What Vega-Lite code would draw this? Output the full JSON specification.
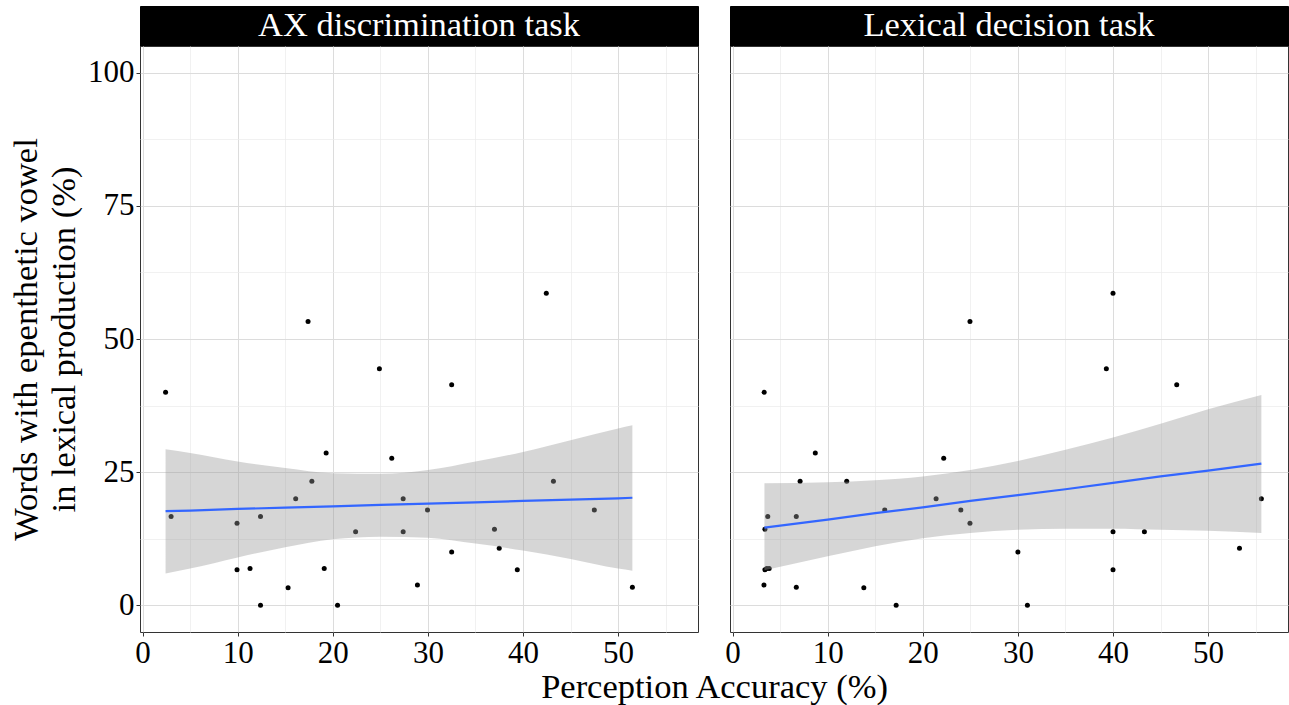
{
  "$schema": "https://vega.github.io/schema/vega-lite/v6.json",
  "padding": {"left": 8, "top": 5, "right": 2, "bottom": 2},
  "background": "white",
  "datasets": {
    "strips": [
      {"task": "AX discrimination task"},
      {"task": "Lexical decision task"}
    ],
    "pts": [
      {"task": "AX", "acc": 2.42, "epen": 40.0},
      {"task": "AX", "acc": 17.4, "epen": 53.3},
      {"task": "AX", "acc": 24.9, "epen": 44.4},
      {"task": "AX", "acc": 19.3, "epen": 28.6},
      {"task": "AX", "acc": 26.2, "epen": 27.6},
      {"task": "AX", "acc": 17.8, "epen": 23.3},
      {"task": "AX", "acc": 16.1, "epen": 20.0},
      {"task": "AX", "acc": 27.4, "epen": 20.0},
      {"task": "AX", "acc": 3.0, "epen": 16.7},
      {"task": "AX", "acc": 9.93, "epen": 15.4},
      {"task": "AX", "acc": 12.4, "epen": 16.7},
      {"task": "AX", "acc": 22.4, "epen": 13.8},
      {"task": "AX", "acc": 27.4, "epen": 13.8},
      {"task": "AX", "acc": 9.93, "epen": 6.7},
      {"task": "AX", "acc": 11.3, "epen": 6.9},
      {"task": "AX", "acc": 19.1, "epen": 6.9},
      {"task": "AX", "acc": 15.3, "epen": 3.3},
      {"task": "AX", "acc": 28.9, "epen": 3.8},
      {"task": "AX", "acc": 12.4, "epen": 0},
      {"task": "AX", "acc": 20.5, "epen": 0},
      {"task": "AX", "acc": 29.96, "epen": 17.9},
      {"task": "AX", "acc": 42.45, "epen": 58.6},
      {"task": "AX", "acc": 32.5, "epen": 41.4},
      {"task": "AX", "acc": 43.2, "epen": 23.3},
      {"task": "AX", "acc": 47.5, "epen": 17.9},
      {"task": "AX", "acc": 37.0, "epen": 14.3},
      {"task": "AX", "acc": 37.5, "epen": 10.7},
      {"task": "AX", "acc": 32.5, "epen": 10.0},
      {"task": "AX", "acc": 39.4, "epen": 6.7},
      {"task": "AX", "acc": 51.5, "epen": 3.4},
      {"task": "LD", "acc": 3.32, "epen": 40.0},
      {"task": "LD", "acc": 24.96, "epen": 53.3},
      {"task": "LD", "acc": 8.7, "epen": 28.6},
      {"task": "LD", "acc": 22.2, "epen": 27.6},
      {"task": "LD", "acc": 7.1, "epen": 23.3},
      {"task": "LD", "acc": 12.0, "epen": 23.3},
      {"task": "LD", "acc": 21.4, "epen": 20.0},
      {"task": "LD", "acc": 3.7, "epen": 16.7},
      {"task": "LD", "acc": 6.7, "epen": 16.7},
      {"task": "LD", "acc": 16.0, "epen": 17.9},
      {"task": "LD", "acc": 24.0, "epen": 17.9},
      {"task": "LD", "acc": 3.4, "epen": 14.3},
      {"task": "LD", "acc": 24.96, "epen": 15.4},
      {"task": "LD", "acc": 3.4, "epen": 6.7},
      {"task": "LD", "acc": 3.6, "epen": 6.9},
      {"task": "LD", "acc": 3.85, "epen": 6.9},
      {"task": "LD", "acc": 3.3, "epen": 3.8},
      {"task": "LD", "acc": 6.7, "epen": 3.4},
      {"task": "LD", "acc": 13.8, "epen": 3.3},
      {"task": "LD", "acc": 17.2, "epen": 0},
      {"task": "LD", "acc": 40.0, "epen": 58.6},
      {"task": "LD", "acc": 39.3, "epen": 44.4},
      {"task": "LD", "acc": 46.7, "epen": 41.4},
      {"task": "LD", "acc": 55.6, "epen": 20.0},
      {"task": "LD", "acc": 40.0, "epen": 13.8},
      {"task": "LD", "acc": 43.3, "epen": 13.8},
      {"task": "LD", "acc": 30.0, "epen": 10.0},
      {"task": "LD", "acc": 53.3, "epen": 10.7},
      {"task": "LD", "acc": 40.0, "epen": 6.7},
      {"task": "LD", "acc": 31.0, "epen": 0}
    ],
    "band": [
      {"task": "AX", "acc": 2.42, "lo": 6.0, "hi": 29.3, "fit": 17.7},
      {"task": "AX", "acc": 5, "lo": 6.9, "hi": 28.6, "fit": 17.8},
      {"task": "AX", "acc": 10, "lo": 9.0, "hi": 27.0, "fit": 18.1},
      {"task": "AX", "acc": 15, "lo": 10.9, "hi": 25.8, "fit": 18.35},
      {"task": "AX", "acc": 20, "lo": 12.4, "hi": 24.8, "fit": 18.6},
      {"task": "AX", "acc": 25, "lo": 12.9, "hi": 24.7, "fit": 18.85},
      {"task": "AX", "acc": 30, "lo": 12.7, "hi": 25.4, "fit": 19.1},
      {"task": "AX", "acc": 35, "lo": 11.6, "hi": 27.0, "fit": 19.35},
      {"task": "AX", "acc": 40, "lo": 10.3, "hi": 28.8, "fit": 19.6},
      {"task": "AX", "acc": 45, "lo": 8.7, "hi": 31.0, "fit": 19.85},
      {"task": "AX", "acc": 50, "lo": 6.9, "hi": 33.2, "fit": 20.1},
      {"task": "AX", "acc": 51.5, "lo": 6.5, "hi": 33.8, "fit": 20.2},
      {"task": "LD", "acc": 3.35, "lo": 6.6, "hi": 22.9, "fit": 14.6},
      {"task": "LD", "acc": 10, "lo": 9.2, "hi": 23.1, "fit": 16.1},
      {"task": "LD", "acc": 15, "lo": 11.1, "hi": 23.5, "fit": 17.3},
      {"task": "LD", "acc": 20, "lo": 12.6, "hi": 24.2, "fit": 18.4},
      {"task": "LD", "acc": 25, "lo": 13.6, "hi": 25.4, "fit": 19.6},
      {"task": "LD", "acc": 30, "lo": 14.2, "hi": 27.1, "fit": 20.7},
      {"task": "LD", "acc": 35, "lo": 14.4, "hi": 29.2, "fit": 21.8},
      {"task": "LD", "acc": 40, "lo": 14.4, "hi": 31.5, "fit": 23.0},
      {"task": "LD", "acc": 45, "lo": 14.2, "hi": 34.1, "fit": 24.2},
      {"task": "LD", "acc": 50, "lo": 14.0, "hi": 36.8, "fit": 25.3},
      {"task": "LD", "acc": 55.6, "lo": 13.6, "hi": 39.5, "fit": 26.6}
    ]
  },
  "bounds": "flush",
  "columns": 2,
  "spacing": {"row": 0, "column": 32},
  "concat": [
    {
      "width": 558,
      "height": 40,
      "data": {"name": "strips"},
      "transform": [{"filter": "datum.task === 'AX discrimination task'"}],
      "view": {"fill": "black", "stroke": "black"},
      "mark": {"type": "text", "color": "white", "font": "Liberation Serif", "fontSize": 34.5, "baseline": "middle", "align": "center"},
      "encoding": {"text": {"field": "task", "type": "nominal"}}
    },
    {
      "width": 558,
      "height": 40,
      "data": {"name": "strips"},
      "transform": [{"filter": "datum.task === 'Lexical decision task'"}],
      "view": {"fill": "black", "stroke": "black"},
      "mark": {"type": "text", "color": "white", "font": "Liberation Serif", "fontSize": 34.5, "baseline": "middle", "align": "center"},
      "encoding": {"text": {"field": "task", "type": "nominal"}}
    },
    {
      "width": 558,
      "height": 586,
      "layer": [
        {
          "data": {"name": "pts"},
          "transform": [{"filter": "datum.task === 'AX'"}],
          "mark": {"type": "circle", "size": 25, "color": "black", "opacity": 1},
          "encoding": {
            "x": {
              "field": "acc", "type": "quantitative",
              "scale": {"domain": [-0.27, 58.4], "nice": false, "zero": false},
              "axis": {
                "title": "Perception Accuracy (%)",
                "titleFont": "Liberation Serif",
                "titleFontSize": 34.5,
                "titleFontWeight": "normal",
                "titleX": 574,
                "titleY": 38,
                "titleAlign": "center",
                "titleBaseline": "top",
                "values": [0, 5, 10, 15, 20, 25, 30, 35, 40, 45, 50, 55],
                "labelExpr": "datum.value % 10 === 0 ? datum.label : ''",
                "gridWidth": {"condition": {"test": "datum.value % 10 === 0", "value": 1}, "value": 0.7},
                "gridColor": {"condition": {"test": "datum.value % 10 === 0", "value": "#dcdcdc"}, "value": "#ebebeb"},
                "tickSize": {"condition": {"test": "datum.value % 10 === 0", "value": 4}, "value": 0}
              }
            },
            "y": {
              "field": "epen", "type": "quantitative",
              "scale": {"domain": [-5, 105], "nice": false, "zero": false},
              "axis": {
                "title": ["Words with epenthetic vowel", "in lexical production (%)"],
                "titleFont": "Liberation Serif",
                "titleFontSize": 34.5,
                "titleFontWeight": "normal",
                "titleLineHeight": 38,
                "titlePadding": 6,
                "values": [0, 12.5, 25, 37.5, 50, 62.5, 75, 87.5, 100],
                "labelExpr": "datum.value % 25 === 0 ? datum.label : ''",
                "gridWidth": {"condition": {"test": "datum.value % 25 === 0", "value": 1}, "value": 0.7},
                "gridColor": {"condition": {"test": "datum.value % 25 === 0", "value": "#dcdcdc"}, "value": "#ebebeb"},
                "tickSize": {"condition": {"test": "datum.value % 25 === 0", "value": 4}, "value": 0}
              }
            }
          }
        },
        {
          "data": {"name": "band"},
          "transform": [{"filter": "datum.task === 'AX'"}],
          "mark": {"type": "area", "color": "#999999", "opacity": 0.4, "interpolate": "monotone"},
          "encoding": {
            "x": {"field": "acc", "type": "quantitative", "title": "Perception Accuracy (%)"},
            "y": {"field": "lo", "type": "quantitative", "title": ["Words with epenthetic vowel", "in lexical production (%)"]},
            "y2": {"field": "hi"}
          }
        },
        {
          "data": {"name": "band"},
          "transform": [{"filter": "datum.task === 'AX'"}],
          "mark": {"type": "line", "color": "#3366FF", "strokeWidth": 2.2},
          "encoding": {
            "x": {"field": "acc", "type": "quantitative", "title": "Perception Accuracy (%)"},
            "y": {"field": "fit", "type": "quantitative", "title": ["Words with epenthetic vowel", "in lexical production (%)"]}
          }
        }
      ]
    },
    {
      "width": 558,
      "height": 586,
      "layer": [
        {
          "data": {"name": "pts"},
          "transform": [{"filter": "datum.task === 'LD'"}],
          "mark": {"type": "circle", "size": 25, "color": "black", "opacity": 1},
          "encoding": {
            "x": {
              "field": "acc", "type": "quantitative",
              "scale": {"domain": [-0.27, 58.4], "nice": false, "zero": false},
              "axis": {
                "title": null,
                "values": [0, 5, 10, 15, 20, 25, 30, 35, 40, 45, 50, 55],
                "labelExpr": "datum.value % 10 === 0 ? datum.label : ''",
                "gridWidth": {"condition": {"test": "datum.value % 10 === 0", "value": 1}, "value": 0.7},
                "gridColor": {"condition": {"test": "datum.value % 10 === 0", "value": "#dcdcdc"}, "value": "#ebebeb"},
                "tickSize": {"condition": {"test": "datum.value % 10 === 0", "value": 4}, "value": 0}
              }
            },
            "y": {
              "field": "epen", "type": "quantitative",
              "scale": {"domain": [-5, 105], "nice": false, "zero": false},
              "axis": {
                "title": null,
                "labels": false,
                "ticks": false,
                "values": [0, 12.5, 25, 37.5, 50, 62.5, 75, 87.5, 100],
                "gridWidth": {"condition": {"test": "datum.value % 25 === 0", "value": 1}, "value": 0.7},
                "gridColor": {"condition": {"test": "datum.value % 25 === 0", "value": "#dcdcdc"}, "value": "#ebebeb"}
              }
            }
          }
        },
        {
          "data": {"name": "band"},
          "transform": [{"filter": "datum.task === 'LD'"}],
          "mark": {"type": "area", "color": "#999999", "opacity": 0.4, "interpolate": "monotone"},
          "encoding": {
            "x": {"field": "acc", "type": "quantitative", "title": null},
            "y": {"field": "lo", "type": "quantitative", "title": null},
            "y2": {"field": "hi"}
          }
        },
        {
          "data": {"name": "band"},
          "transform": [{"filter": "datum.task === 'LD'"}],
          "mark": {"type": "line", "color": "#3366FF", "strokeWidth": 2.2},
          "encoding": {
            "x": {"field": "acc", "type": "quantitative", "title": null},
            "y": {"field": "fit", "type": "quantitative", "title": null}
          }
        }
      ]
    }
  ],
  "config": {
    "font": "Liberation Serif",
    "view": {"stroke": "#333333", "strokeWidth": 1},
    "title": {"font": "Liberation Serif"},
    "axis": {
      "domain": false,
      "labelFont": "Liberation Serif",
      "labelFontSize": 31,
      "labelColor": "black",
      "labelPadding": 2,
      "tickColor": "#333333",
      "tickWidth": 1,
      "titleFont": "Liberation Serif",
      "titleFontSize": 34.5,
      "titleFontWeight": "normal",
      "titleColor": "black"
    },
    "axisX": {"labelBaseline": "top"},
    "axisY": {"labelAlign": "right", "labelBaseline": "middle"}
  }
}
